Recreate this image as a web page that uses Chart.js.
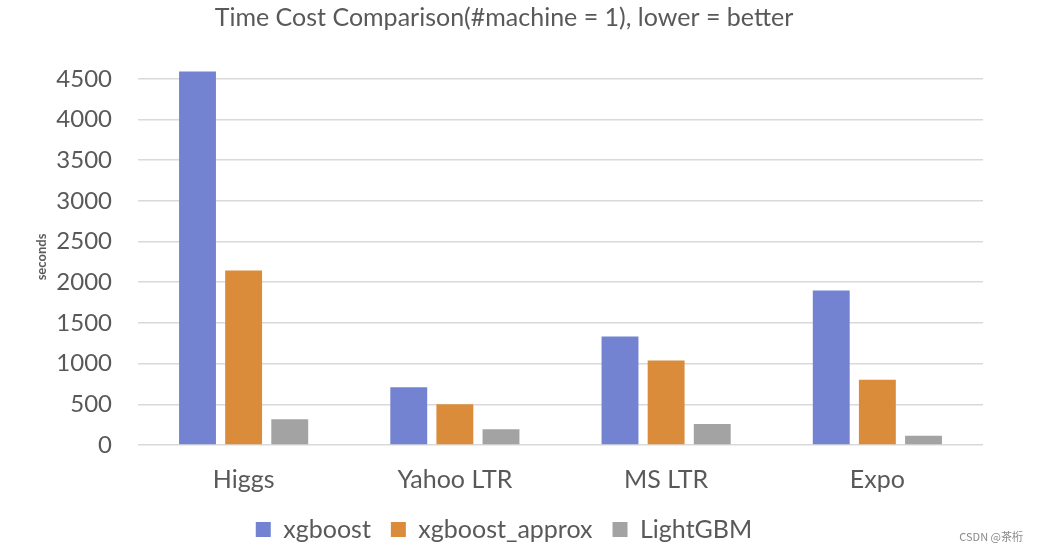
<!DOCTYPE html>
<html>
<head>
<meta charset="utf-8">
<script src="https://cdn.jsdelivr.net/npm/chart.js@4/dist/chart.umd.min.js"></script>
<style>
  html, body { margin: 0; padding: 0; background: #fff; }
  #wrap { position: relative; width: 1037px; height: 552px; }
  #mark { position: absolute; right: 14px; bottom: 8px; font: 11px "Noto Sans CJK SC", sans-serif; color: #8a8a8a; }
</style>
</head>
<body>
<div id="wrap">
  <canvas id="c" width="1037" height="552"></canvas>
  <div id="mark">CSDN @茶桁</div>
</div>
<script>
const categories = ["Higgs", "Yahoo LTR", "MS LTR", "Expo"];
const xgboost = [4590, 710, 1332, 1898];
const xgboostApprox = [2144, 500, 1037, 803];
const lightGBM = [316, 193, 258, 115];
const yTicks = [0, 500, 1000, 1500, 2000, 2500, 3000, 3500, 4000, 4500];
const titleText = "Time Cost Comparison(#machine = 1), lower = better";
const yAxisTitle = "seconds";

const FONT = "Lato, 'Open Sans', sans-serif";
const TXT = "#595959";

new Chart(document.getElementById("c"), {
  type: "bar",
  data: {
    labels: categories,
    datasets: [
      { label: "xgboost", data: xgboost, backgroundColor: "#7383d2" },
      { label: "xgboost_approx", data: xgboostApprox, backgroundColor: "#da8c3b" },
      { label: "LightGBM", data: lightGBM, backgroundColor: "#a3a3a3" }
    ]
  },
  options: {
    responsive: false,
    animation: false,
    devicePixelRatio: 1,
    layout: { padding: { left: 25, right: 54, top: 0, bottom: 0 } },
    datasets: { bar: { categoryPercentage: 0.655, barPercentage: 0.8 } },
    plugins: {
      title: {
        display: true, text: titleText, color: TXT,
        font: { family: FONT, size: 25, weight: "normal", lineHeight: 1.2 },
        padding: { top: 3, bottom: 36 }
      },
      legend: {
        position: "bottom",
        labels: {
          color: TXT, boxWidth: 15, boxHeight: 15, padding: 20,
          font: { family: FONT, size: 25 }
        }
      },
      tooltip: { enabled: false }
    },
    scales: {
      x: {
        afterFit(scale) { scale.height = 52; },
        grid: { display: false, drawTicks: false },
        border: { display: false },
        ticks: { color: TXT, font: { family: FONT, size: 25, lineHeight: 1.2 }, padding: 20 }
      },
      y: {
        min: 0, max: 4620,
        afterFit(scale) { scale.width = 113; },
        afterBuildTicks(scale) { scale.ticks = yTicks.map(v => ({ value: v })); },
        grid: { color: "#d9d9d9", lineWidth: 1.5, drawTicks: false },
        border: { display: false },
        ticks: { color: TXT, font: { family: FONT, size: 24 }, padding: 26, callback: v => String(v) },
        title: {
          display: true, text: yAxisTitle, color: TXT,
          font: { family: FONT, size: 13, weight: "bold" },
          padding: { top: 9, bottom: 0 }
        }
      }
    }
  }
});
</script>
</body>
</html>
